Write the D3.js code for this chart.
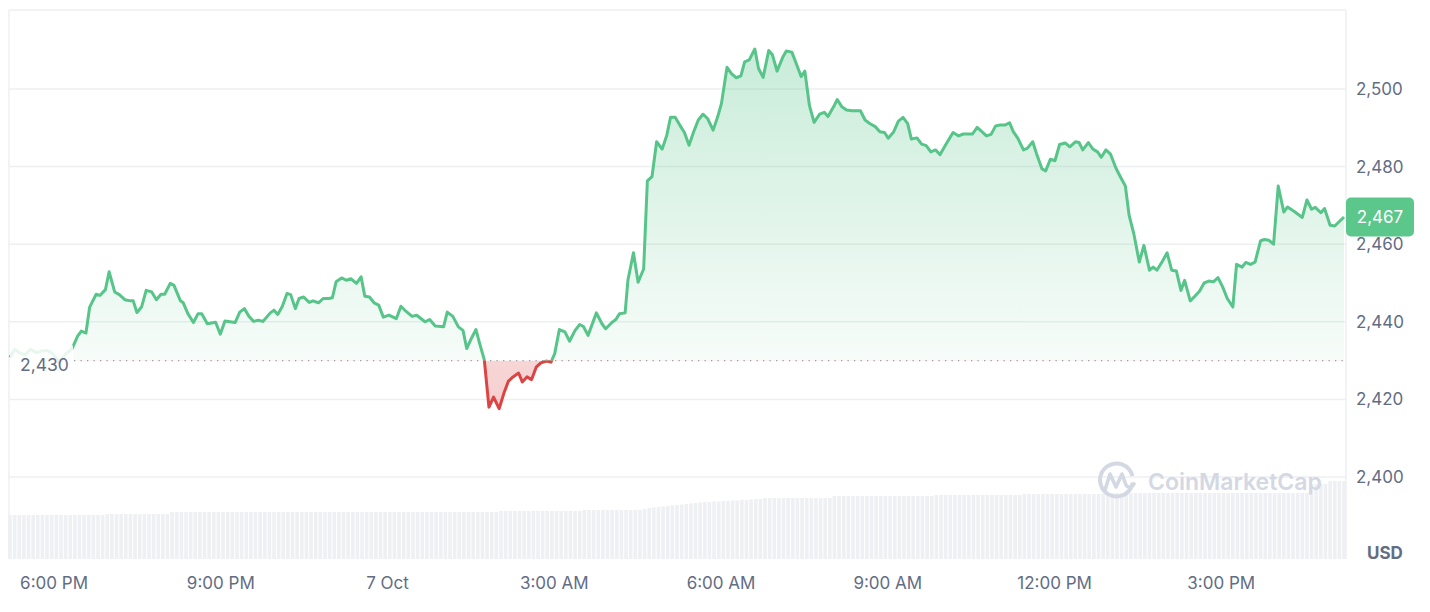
<!DOCTYPE html>
<html><head><meta charset="utf-8">
<script src="https://cdn.jsdelivr.net/npm/d3@7"></script>
<style>
html,body{margin:0;padding:0;background:#fff;}
svg{display:block;font-family:Inter,"Noto Sans",sans-serif;}
</style></head><body>
<svg id="chart" width="1430" height="612"></svg>
<script>
// ---------------- DATA ----------------
const startTime = new Date(2024, 9, 6, 17, 13);
const baselinePrice = 2430;
const lastPrice = 2467;
// minutes after startTime
const priceMinutes = [0,5,11,16,22,29,34,40,45,49,52,53,59,67,73,77,82,86,93,97,103,107,113,118,124,130,133,137,142,147,153,158,163,167,173,177,184,187,192,198,203,207,213,222,227,232,243,248,253,258,263,268,273,281,285,289,294,299,303,308,312,317,323,327,333,338,344,348,352,358,363,368,374,379,383,388,393,398,403,409,417,422,427,434,439,448,453,459,468,472,478,484,489,493,498,503,507,512,517,522,528,533,538,543,549,553,558,563,568,573,579,584,588,593,599,604,610,615,619,624,633,639,643,650,654,658,664,667,673,678,684,688,693,698,704,709,713,718,723,728,733,738,743,748,753,759,764,768,774,779,784,789,793,798,804,808,813,819,823,828,834,838,844,849,854,858,863,868,874,879,883,889,893,898,903,909,918,923,928,934,939,944,948,954,959,964,969,973,979,984,989,994,999,1004,1011,1018,1024,1029,1039,1044,1050,1054,1059,1064,1069,1074,1079,1083,1088,1094,1098,1104,1108,1114,1118,1123,1128,1133,1139,1144,1150,1154,1158,1164,1169,1174,1178,1183,1188,1194,1199,1204,1208,1213,1219,1224,1230,1234,1238,1244,1249,1254,1259,1264,1268,1274,1279,1284,1289,1294,1299,1304,1309,1314,1320,1324,1330,1334,1339,1344,1350,1354,1359,1364,1369,1375,1379,1386,1395,1400,1405,1409,1415,1419,1425,1430,1440];
const priceValues = [2430.8,2432.9,2431.9,2431.4,2432.9,2432.0,2432.5,2432.6,2432.0,2430.9,2430.2,2429.3,2431.4,2433.1,2436.3,2437.6,2437.1,2443.8,2447.1,2446.8,2448.3,2452.9,2447.7,2447.0,2445.7,2445.4,2445.4,2442.4,2443.8,2448.1,2447.7,2445.7,2447.1,2447.1,2449.9,2449.4,2445.4,2444.9,2442.1,2439.8,2442.1,2442.1,2439.5,2439.9,2436.8,2440.2,2439.8,2442.5,2443.4,2441.4,2440.1,2440.4,2440.1,2442.3,2443.0,2441.9,2444.0,2447.3,2447.0,2443.4,2446.0,2446.4,2445.0,2445.4,2444.9,2446.0,2446.0,2446.2,2450.3,2451.3,2450.7,2451.1,2449.9,2451.6,2446.6,2446.4,2444.9,2444.3,2441.2,2441.7,2440.8,2444.0,2442.8,2441.4,2441.7,2440.0,2440.6,2438.9,2438.7,2442.5,2441.4,2438.7,2437.8,2433.1,2435.7,2438.0,2434.4,2430.2,2418.0,2420.6,2417.6,2421.5,2424.7,2425.8,2426.8,2424.5,2425.8,2425.1,2428.3,2429.4,2429.9,2429.6,2431.8,2438.0,2437.4,2435.0,2437.8,2439.3,2438.8,2436.5,2442.3,2439.5,2438.2,2439.9,2440.6,2442.1,2442.3,2450.7,2457.8,2450.2,2453.6,2476.3,2477.4,2486.4,2484.5,2488.1,2492.7,2492.7,2490.7,2488.8,2485.5,2489.0,2492.0,2493.5,2492.4,2489.4,2492.9,2496.3,2505.6,2503.9,2502.9,2503.4,2507.0,2507.5,2510.3,2505.3,2503.0,2509.9,2508.8,2504.6,2508.1,2509.8,2509.5,2506.4,2503.2,2504.6,2495.7,2491.4,2493.5,2494.0,2492.9,2495.4,2497.3,2495.4,2494.6,2494.4,2494.4,2492.0,2491.1,2490.3,2489.0,2488.8,2487.3,2489.0,2491.7,2492.7,2491.1,2487.1,2487.4,2485.8,2485.4,2483.8,2484.3,2483.1,2486.0,2488.8,2487.9,2488.4,2488.4,2490.1,2488.8,2487.9,2488.3,2490.5,2490.7,2490.7,2491.3,2489.0,2487.3,2484.3,2484.7,2486.4,2483.4,2479.4,2478.9,2481.9,2481.5,2485.7,2486.1,2485.1,2486.4,2486.2,2484.3,2486.2,2484.5,2483.8,2482.4,2484.3,2483.2,2479.5,2477.2,2475.0,2467.5,2462.8,2455.4,2459.7,2453.3,2454.1,2453.3,2455.6,2457.8,2453.3,2453.1,2448.1,2450.7,2445.4,2446.6,2447.9,2450.0,2450.5,2450.3,2451.4,2449.0,2446.0,2443.8,2454.8,2454.1,2455.3,2454.8,2455.4,2460.9,2461.2,2461.0,2460.0,2475.0,2468.3,2469.6,2468.5,2466.9,2471.4,2469.0,2469.5,2468.1,2469.2,2464.9,2464.7,2467.0];
// 5-minute volume bars (billion USD, rolling)
const volumeValues = [
8.8,8.8,8.8,8.8,8.8,8.8,8.8,8.8,8.8,8.8,8.8,8.8,8.8,8.8,8.8,8.8,8.8,8.8,8.8,8.8,8.8,9.0,9.0,9.0,
9.0,9.0,9.0,9.0,9.0,9.0,9.0,9.0,9.0,9.0,9.0,9.4,9.4,9.4,9.4,9.4,9.4,9.4,9.4,9.4,9.4,9.4,9.4,9.4,
9.4,9.4,9.4,9.4,9.4,9.4,9.4,9.4,9.4,9.4,9.4,9.4,9.4,9.4,9.4,9.4,9.4,9.4,9.4,9.4,9.4,9.4,9.4,9.4,
9.4,9.4,9.4,9.4,9.4,9.4,9.4,9.4,9.4,9.4,9.4,9.4,9.4,9.4,9.4,9.4,9.4,9.4,9.4,9.4,9.4,9.4,9.4,9.4,
9.4,9.4,9.4,9.4,9.4,9.4,9.4,9.4,9.4,9.4,9.6,9.6,9.6,9.6,9.6,9.6,9.6,9.6,9.6,9.6,9.6,9.6,9.6,9.6,
9.6,9.6,9.6,9.6,9.8,9.8,9.8,9.8,9.8,9.8,9.8,9.8,9.8,9.8,9.8,9.8,9.8,10.0,10.2,10.3,10.4,10.5,10.6,10.7,
10.8,10.9,11.0,11.1,11.2,11.3,11.4,11.4,11.5,11.5,11.6,11.6,11.7,11.7,11.8,11.8,11.9,12.0,12.0,12.2,12.2,12.2,12.2,12.2,
12.2,12.2,12.2,12.2,12.2,12.2,12.2,12.2,12.2,12.2,12.6,12.6,12.6,12.6,12.6,12.6,12.6,12.6,12.6,12.6,12.6,12.6,12.6,12.6,
12.6,12.6,12.6,12.6,12.6,12.6,12.6,12.6,12.8,12.8,12.8,12.8,12.8,12.8,12.8,12.8,12.8,12.8,12.8,12.8,12.8,12.8,12.8,12.8,
12.8,12.8,12.8,13.0,13.0,13.0,13.0,13.0,13.0,13.0,13.0,13.0,13.0,13.0,13.0,13.0,13.0,13.0,13.0,13.0,13.0,13.2,13.2,13.2,
13.2,13.2,13.2,13.2,13.2,13.2,13.2,13.2,13.2,13.2,13.2,13.2,13.2,13.2,13.2,13.2,13.2,13.2,13.2,13.2,13.2,13.2,13.2,13.2,
13.2,13.2,13.2,13.2,13.2,13.2,13.2,13.2,13.2,13.2,13.2,13.2,13.2,13.2,13.2,13.2,13.2,15.0,15.0,15.0,15.0,15.6,15.6,15.6,
15.6];
const yTickValues = [2400,2420,2440,2460,2480,2500];
const xTickTimes = ["2024-10-06T18:00","2024-10-06T21:00","2024-10-07T00:00","2024-10-07T03:00","2024-10-07T06:00","2024-10-07T09:00","2024-10-07T12:00","2024-10-07T15:00"];
const xTickLabels = ["6:00 PM","9:00 PM","7 Oct","3:00 AM","6:00 AM","9:00 AM","12:00 PM","3:00 PM"];

// ---------------- CHART ----------------
const svg = d3.select("#chart");
const plotL = 9, plotR = 1346, plotT = 10, plotB = 559;
const GREEN = "#57c489", RED = "#dc4444", TEXT = "#626d84", GRID = "#eeeff1";

const endTime = new Date(startTime.getTime() + 24*3600*1000);
const x = d3.scaleTime().domain([startTime, endTime]).range([10, 1344]);
const y = d3.scaleLinear().domain([2400, 2500]).range([477, 89]);
const vol = d3.scaleLinear().domain([0, 16]).range([plotB, plotB - 80]);

const pts = priceMinutes.map((m, i) => ({t: new Date(startTime.getTime() + m*60000), v: priceValues[i]}));
const yBase = y(baselinePrice);

const defs = svg.append("defs");
const gG = defs.append("linearGradient").attr("id","gGreen").attr("gradientUnits","userSpaceOnUse")
  .attr("x1",0).attr("x2",0).attr("y1",y(2510)).attr("y2",yBase);
gG.append("stop").attr("offset",0).attr("stop-color",GREEN).attr("stop-opacity",0.32);
gG.append("stop").attr("offset",1).attr("stop-color",GREEN).attr("stop-opacity",0.05);
const gR = defs.append("linearGradient").attr("id","gRed").attr("gradientUnits","userSpaceOnUse")
  .attr("x1",0).attr("x2",0).attr("y1",yBase).attr("y2",y(2417));
gR.append("stop").attr("offset",0).attr("stop-color",RED).attr("stop-opacity",0.22);
gR.append("stop").attr("offset",1).attr("stop-color",RED).attr("stop-opacity",0.26);
defs.append("clipPath").attr("id","cAbove").append("rect").attr("x",0).attr("y",0).attr("width",1430).attr("height",yBase);
defs.append("clipPath").attr("id","cBelow").append("rect").attr("x",0).attr("y",yBase).attr("width",1430).attr("height",612-yBase);

// grid
svg.append("g").selectAll("line").data(yTickValues).join("line")
  .attr("x1",plotL).attr("x2",plotR).attr("y1",d=>y(d)).attr("y2",d=>y(d))
  .attr("stroke",GRID).attr("stroke-width",1.5);
svg.append("line").attr("x1",plotL).attr("x2",plotR).attr("y1",plotT).attr("y2",plotT).attr("stroke",GRID).attr("stroke-width",1.5);
svg.append("line").attr("x1",plotL).attr("x2",plotL).attr("y1",plotT).attr("y2",plotB).attr("stroke",GRID).attr("stroke-width",1.5);
svg.append("line").attr("x1",plotR).attr("x2",plotR).attr("y1",plotT).attr("y2",plotB).attr("stroke",GRID).attr("stroke-width",1.5);

// volume bars
const step = (x(endTime) - x(startTime)) / (volumeValues.length - 1);
svg.append("g").selectAll("rect").data(volumeValues).join("rect")
  .attr("x",(d,i)=> x(new Date(startTime.getTime() + i*5*60000)) - step/2 + 0.5)
  .attr("width", step - 1)
  .attr("y", d=>vol(d)).attr("height", d=>plotB - vol(d))
  .attr("fill","#eff0f4");

// watermark
const WM = "#d3d8e3";
const wm = svg.append("g").attr("fill","none").attr("stroke",WM);
wm.append("path").attr("d", d3.arc()({innerRadius:14.5,outerRadius:18.5,startAngle:0.55*Math.PI,endAngle:2.42*Math.PI}))
  .attr("transform","translate(1116.5,480)").attr("fill",WM).attr("stroke","none");
wm.append("path").attr("d","M1105,490 L1110,474 L1116,487 L1122,474 L1126,485 Q1129,490 1134,484")
  .attr("stroke-width",3.6).attr("stroke-linejoin","round").attr("stroke-linecap","round");
svg.append("text").attr("x",1148).attr("y",490).text("CoinMarketCap")
  .attr("font-size",23).attr("font-weight",600).attr("fill",WM);

// areas
const area = d3.area().x(d=>x(d.t)).y0(yBase).y1(d=>y(d.v));
svg.append("path").datum(pts).attr("d",area).attr("fill","url(#gGreen)").attr("clip-path","url(#cAbove)");
svg.append("path").datum(pts).attr("d",area).attr("fill","url(#gRed)").attr("clip-path","url(#cBelow)");

// baseline dotted
svg.append("line").attr("x1",74).attr("x2",plotR).attr("y1",yBase).attr("y2",yBase)
  .attr("stroke","#9aa0aa").attr("stroke-width",1.3).attr("stroke-dasharray","1.3,5.2");

// lines
const line = d3.line().x(d=>x(d.t)).y(d=>y(d.v));
svg.append("path").datum(pts).attr("d",line).attr("fill","none").attr("stroke",GREEN)
  .attr("stroke-width",3).attr("stroke-linejoin","round").attr("clip-path","url(#cAbove)");
svg.append("path").datum(pts).attr("d",line).attr("fill","none").attr("stroke",RED)
  .attr("stroke-width",3).attr("stroke-linejoin","round").attr("clip-path","url(#cBelow)");

// baseline label
svg.append("rect").attr("x",10).attr("y",yBase-17).attr("width",63).attr("height",36).attr("rx",4)
  .attr("fill","#fff").attr("fill-opacity",0.86);
svg.append("text").attr("x",20).attr("y",yBase+10).text(d3.format(",")(baselinePrice))
  .attr("font-size",17.5).attr("fill",TEXT);

// y axis
const yAxis = d3.axisRight(y).tickValues(yTickValues).tickFormat(d3.format(",")).tickSize(0).tickPadding(0);
const ya = svg.append("g").attr("transform","translate(1356,0)").call(yAxis);
ya.select(".domain").remove();
ya.selectAll("text").attr("font-size",17).attr("fill",TEXT).attr("font-family","Inter,'Noto Sans',sans-serif");
svg.append("text").attr("x",1367).attr("y",559).text("USD").attr("font-size",17).attr("font-weight",700).attr("fill",TEXT);

// x axis
const xDates = xTickTimes.map(s=>new Date(s));
const xAxis = d3.axisBottom(x).tickValues(xDates).tickFormat((d,i)=>xTickLabels[i]).tickSize(0).tickPadding(0);
const xa = svg.append("g").attr("transform","translate(0,577)").call(xAxis);
xa.select(".domain").remove();
xa.selectAll("text").attr("font-size",17).attr("fill",TEXT).attr("font-family","Inter,'Noto Sans',sans-serif");

// price badge
const yl = y(lastPrice);
svg.append("rect").attr("x",1346).attr("y",yl-19.5).attr("width",68).attr("height",39).attr("rx",5).attr("fill","#5bc78b");
svg.append("text").attr("x",1380).attr("y",yl).attr("dy","0.36em").attr("text-anchor","middle")
  .text(d3.format(",")(lastPrice)).attr("font-size",17).attr("fill","#fff");
</script>
</body></html>
